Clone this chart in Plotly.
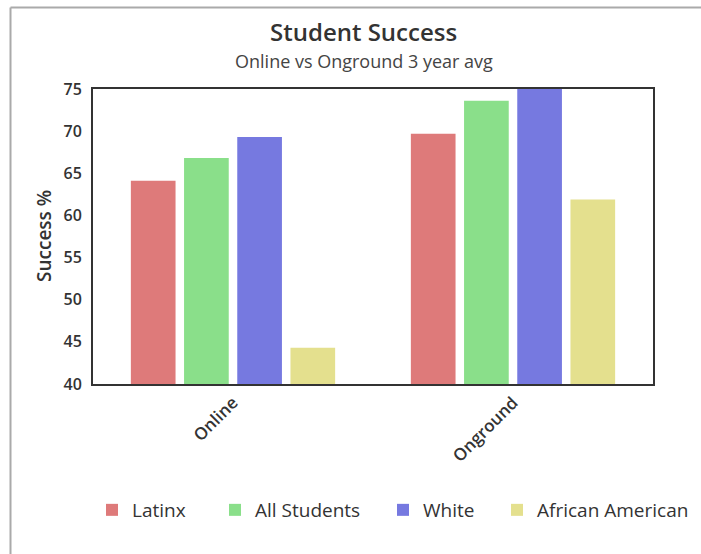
import plotly.graph_objects as go

categories = ["Online", "Onground"]
series_names = ["Latinx", "All Students", "White", "African American"]
latinx = [64.1, 69.7]
all_students = [66.8, 73.6]
white = [69.3, 75.2]
african_american = [44.3, 61.9]
series_values = [latinx, all_students, white, african_american]
colors = ["#DE7A7A", "#8ADF8A", "#7679E0", "#E4E08E"]
y_ticks = [40, 45, 50, 55, 60, 65, 70, 75]

W, H = 701, 554
L, R, T, B = 93, 48, 89, 170
pw, ph = W - L - R, H - T - B

def px(x):
    return (x - L) / pw

def py(y):
    return (H - B - y) / ph

font = "Open Sans, Noto Sans, sans-serif"
legend_ids = ["legend", "legend2", "legend3", "legend4"]
legend_text_starts = [129, 252, 420, 534]

fig = go.Figure()
for name, vals, col, lid in zip(series_names, series_values, colors, legend_ids):
    fig.add_trace(go.Bar(
        name=name, x=categories, y=vals, legend=lid,
        marker=dict(color=col, line=dict(width=0)),
    ))

legend_layout = {}
for lid, ts in zip(legend_ids, legend_text_starts):
    legend_layout[lid] = dict(
        orientation="h", x=px(ts - 37), xanchor="left",
        y=py(510), yanchor="middle",
        font=dict(size=19, color="#333333", family=font, weight=500),
        itemwidth=30, bgcolor="rgba(0,0,0,0)",
    )

fig.update_layout(
    width=W, height=H,
    margin=dict(l=L, r=R, t=T, b=B, pad=0, autoexpand=False),
    paper_bgcolor="white", plot_bgcolor="white",
    barmode="group", bargap=0.24, bargroupgap=0.16,
    font=dict(family=font, color="#333333"),
    showlegend=True,
    xaxis=dict(
        showline=True, linecolor="#333333", linewidth=2, mirror=True,
        tickangle=-45, tickfont=dict(size=17, color="#333333", family=font, weight=600),
        ticks="", showgrid=False,
    ),
    yaxis=dict(
        range=[40, 75], tickvals=y_ticks, showline=True, linecolor="#333333",
        linewidth=2, mirror=True, ticks="", showgrid=False, zeroline=False,
        tickfont=dict(size=16, color="#333333", family=font, weight=600),
        ticklabelstandoff=6,
    ),
    annotations=[
        dict(text="Student Success", x=px(363), y=py(32), xref="paper", yref="paper",
             xanchor="center", yanchor="middle", showarrow=False,
             font=dict(size=24, color="#333333", family=font, weight=600)),
        dict(text="Online vs Onground 3 year avg", x=px(364), y=py(61), xref="paper", yref="paper",
             xanchor="center", yanchor="middle", showarrow=False,
             font=dict(size=18, color="#444444", family=font, weight=500)),
        dict(text="Success %", x=px(44), y=py(236), xref="paper", yref="paper",
             xanchor="center", yanchor="middle", showarrow=False, textangle=-90,
             font=dict(size=19, color="#333333", family=font, weight=600)),
    ],
    shapes=[
        dict(type="line", xref="paper", yref="paper", x0=px(10.5), x1=px(720), y0=py(7.5), y1=py(7.5),
             line=dict(color="#AAAAAA", width=2)),
        dict(type="line", xref="paper", yref="paper", x0=px(10.5), x1=px(10.5), y0=py(7.5), y1=py(580),
             line=dict(color="#AAAAAA", width=2)),
    ],
    **legend_layout,
)

fig.write_html("out.html")
